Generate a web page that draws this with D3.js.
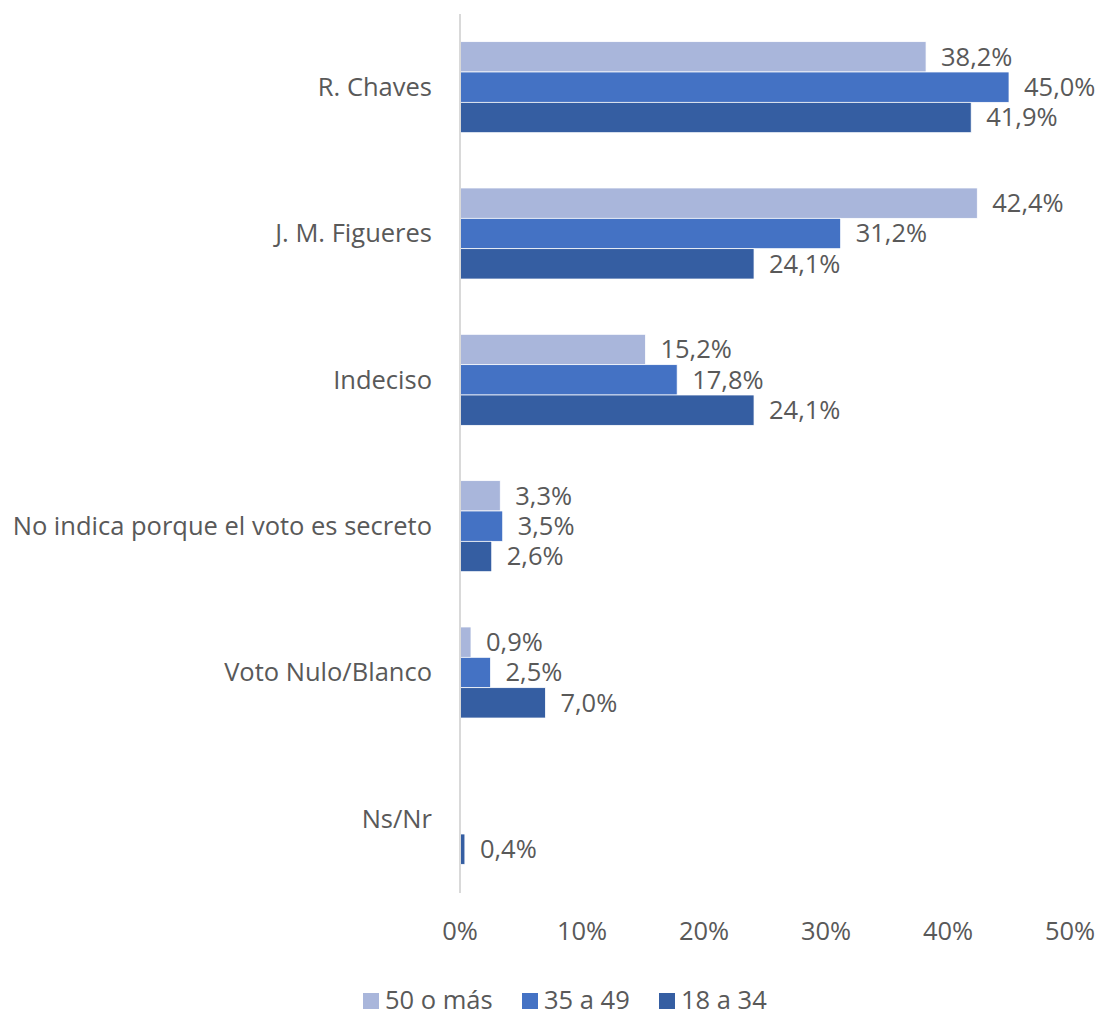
<!DOCTYPE html>
<html>
<head>
<meta charset="utf-8">
<script src="https://cdn.jsdelivr.net/npm/d3@7"></script>
<style>
  body { margin: 0; background: #fff; }
  svg text { font-family: "Open Sans", sans-serif; fill: #595959; }
</style>
</head>
<body>
<div id="chart"></div>
<script>
// categories (top to bottom) and the three age series
const categories = ['R. Chaves', 'J. M. Figueres', 'Indeciso', 'No indica porque el voto es secreto', 'Voto Nulo/Blanco', 'Ns/Nr']
const seriesNames = ['50 o más', '35 a 49', '18 a 34']
const serie50 = [38.2, 42.4, 15.2, 3.3, 0.9, null]
const serie35 = [45.0, 31.2, 17.8, 3.5, 2.5, null]
const serie18 = [41.9, 24.1, 24.1, 2.6, 7.0, 0.4]
const xTicks = [0, 10, 20, 30, 40, 50]
const colors = ['#A9B6DB', '#4472C4', '#355EA2']

const width = 1100
const height = 1017
const plot = {left: 460, right: 1070, top: 14, bottom: 892}
const fontSize = '25.5px'

const svg = d3.select('#chart')
    .append('svg')
    .attr('width', width)
    .attr('height', height)

const xScale = d3.scaleLinear()
    .domain([0, 50])
    .range([plot.left, plot.right])

const yScale = d3.scaleBand()
    .domain(categories)
    .range([plot.top, plot.bottom])
    .paddingInner(0.378)
    .paddingOuter(0.189)

const inner = d3.scaleBand()
    .domain(seriesNames)
    .range([0, yScale.bandwidth()])

const fmt = v => d3.format('.1f')(v).replace('.', ',') + '%'

// x tick labels (no axis line in the original, only labels)
svg.append('g')
    .selectAll('text')
    .data(xTicks)
    .enter()
    .append('text')
    .attr('x', d => xScale(d))
    .attr('y', 931)
    .attr('dy', '0.35em')
    .attr('text-anchor', 'middle')
    .attr('font-size', fontSize)
    .text(d => d + '%')

// category labels
svg.append('g')
    .selectAll('text')
    .data(categories)
    .enter()
    .append('text')
    .attr('x', 432)
    .attr('y', d => yScale(d) + yScale.bandwidth() / 2)
    .attr('dy', '0.35em')
    .attr('text-anchor', 'end')
    .attr('font-size', fontSize)
    .text(d => d)

// flatten into bars
const rows = []
const allSeries = [serie50, serie35, serie18]
categories.forEach((cat, i) => {
    allSeries.forEach((s, j) => {
        if (s[i] === null) return
        rows.push({cat: cat, series: seriesNames[j], value: s[i], color: colors[j]})
    })
})

svg.append('g')
    .selectAll('rect')
    .data(rows)
    .enter()
    .append('rect')
    .attr('x', xScale(0))
    .attr('y', d => yScale(d.cat) + inner(d.series))
    .attr('width', d => xScale(d.value) - xScale(0))
    .attr('height', inner.bandwidth())
    .attr('fill', d => d.color)
    .attr('stroke', '#fff')
    .attr('stroke-width', 0.75)

svg.append('g')
    .selectAll('text')
    .data(rows)
    .enter()
    .append('text')
    .attr('x', d => xScale(d.value) + 15)
    .attr('y', d => yScale(d.cat) + inner(d.series) + inner.bandwidth() / 2)
    .attr('dy', '0.35em')
    .attr('font-size', fontSize)
    .text(d => fmt(d.value))

// vertical axis line at 0%
svg.append('line')
    .attr('x1', xScale(0))
    .attr('x2', xScale(0))
    .attr('y1', plot.top)
    .attr('y2', plot.bottom + 1)
    .attr('stroke', '#d9d9d9')
    .attr('stroke-width', 2)

// legend
const legendX = [363, 522, 659]
const legend = svg.append('g')
    .selectAll('g')
    .data(seriesNames)
    .enter()
    .append('g')
    .attr('transform', (d, i) => `translate(${legendX[i]}, 1000)`)

legend.append('rect')
    .attr('x', 0)
    .attr('y', -7)
    .attr('width', 16)
    .attr('height', 16)
    .attr('fill', (d, i) => colors[i])

legend.append('text')
    .attr('x', 22)
    .attr('y', 0)
    .attr('dy', '0.35em')
    .attr('font-size', fontSize)
    .text(d => d)
</script>
</body>
</html>
